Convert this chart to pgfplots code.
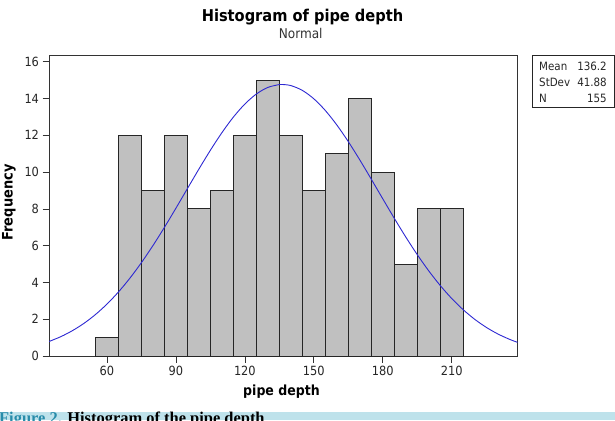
\documentclass[border=0pt]{standalone}
\usepackage{pgfplots}
\pgfplotsset{compat=1.18}
\usepackage{fontspec}
\setmainfont{DejaVu Sans Condensed}
\newfontfamily\capfont{Liberation Serif}
\definecolor{bargray}{RGB}{192,192,192}
\definecolor{curveblue}{RGB}{45,40,210}
\definecolor{capband}{RGB}{190,226,235}
\definecolor{capteal}{RGB}{40,140,170}
\begin{document}
\begin{tikzpicture}[x=1bp,y=1bp]
\useasboundingbox (0,0) rectangle (615,420);
\begin{axis}[
  at={(49bp,64bp)}, anchor=south west,
  width=468.5bp, height=300.7bp, scale only axis,
  xmin=34.8, xmax=238.6, ymin=0, ymax=16.35,
  axis line style={draw=black!80, line width=0.8pt},
  xtick={60,90,...,210}, ytick={0,2,...,16},
  tick align=outside, tick pos=left, major tick length=6.5bp,
  tick style={black!80, line width=0.7pt},
  /pgf/number format/assume math mode=true,
  ticklabel style={font=\fontsize{12.7}{14}\selectfont, text=black!85},
]
\addplot[ybar interval, fill=bargray, draw=black!85, line width=0.9pt] coordinates {
(55,1) (65,12) (75,9) (85,12) (95,8) (105,9) (115,12) (125,15) (135,12)
(145,9) (155,11) (165,14) (175,10) (185,5) (195,8) (205,8) (215,8)};
\addplot[curveblue, line width=0.9pt, smooth, mark=none] coordinates {
(34.8,0.788) (40,1.055) (45,1.379) (50,1.775) (55,2.254) (60,2.821) (65,3.480)
(70,4.233) (75,5.076) (80,6.001) (85,6.993) (90,8.035) (95,9.101) (100,10.162)
(105,11.187) (110,12.141) (115,12.990) (120,13.701) (125,14.246) (130,14.604)
(135,14.759) (136.2,14.765) (140,14.704) (145,14.443) (150,13.985) (155,13.349)
(160,12.563) (165,11.655) (170,10.661) (175,9.612) (180,8.545) (185,7.488)
(190,6.469) (195,5.510) (200,4.627) (205,3.830) (210,3.125) (215,2.514)
(220,1.994) (225,1.559) (230,1.202) (235,0.914) (238.6,0.743)};
\end{axis}
% titles
\node[font=\bfseries\fontsize{16.3}{18}\selectfont, anchor=base] at (302.5,398) {Histogram of pipe depth};
\node[font=\fontsize{13.5}{15}\selectfont, anchor=base, text=black!80] at (300.7,382) {Normal};
\node[font=\bfseries\fontsize{14}{16}\selectfont, anchor=base] at (281.5,25) {pipe depth};
\node[font=\bfseries\fontsize{14.5}{16}\selectfont, rotate=90, anchor=base] at (12.5,217.5) {Frequency};
% stats box
\draw[black!85, line width=0.8pt] (532,312.3) rectangle (614.2,364.3);
\begin{scope}[every node/.style={font=\fontsize{11.5}{13}\selectfont, inner sep=0pt, text=black!85}]
\node[anchor=west] at (539,353.3) {Mean};
\node[anchor=west] at (539,337.3) {StDev};
\node[anchor=west] at (539,321.7) {N};
\node[anchor=east] at (607,353.3) {136.2};
\node[anchor=east] at (607,337.3) {41.88};
\node[anchor=east] at (607,321.7) {155};
\end{scope}
% caption band (cut off, as in the reference)
\begin{scope}
\clip (0,0) rectangle (615,8.3);
\fill[capband] (0,0) rectangle (615,8.3);
\node[anchor=base west, font=\capfont\bfseries\fontsize{16.5}{18}\selectfont, inner sep=0pt] at (-1,-3.8) {\textcolor{capteal}{Figure 2.} Histogram of the pipe depth};
\end{scope}
\end{tikzpicture}
\end{document}
